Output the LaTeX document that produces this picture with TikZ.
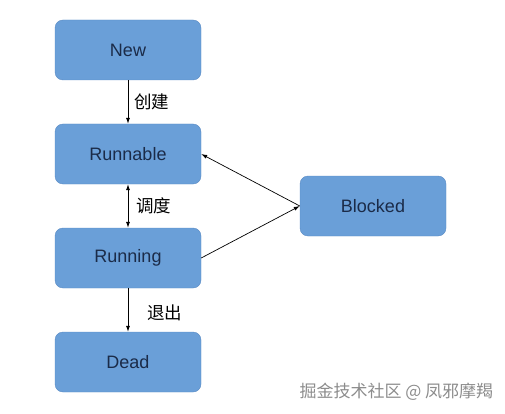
\documentclass[tikz,border=0pt]{standalone}
\usepackage{fontspec}
\setmainfont{Liberation Sans}
\newfontfamily\cjk{Noto Sans CJK SC}
\usetikzlibrary{arrows.meta}
\definecolor{boxfill}{HTML}{6A9FD8}
\definecolor{boxline}{HTML}{5A8BC4}
\definecolor{boxtext}{HTML}{1B2B48}
\begin{document}
\begin{tikzpicture}[x=1pt, y=-1pt,
    state/.style={draw=boxline, fill=boxfill, rounded corners=8pt, minimum width=146pt,
      minimum height=60pt, text=boxtext, font=\fontsize{18}{21}\selectfont},
    lbl/.style={font=\cjk\fontsize{17.5}{20}\selectfont, inner sep=0pt},
    tr/.style={-{Latex[length=6pt,width=4pt]}, line width=0.7pt}]
  \useasboundingbox (0,0) rectangle (505,414);
  % states in a column, Blocked at the side
  \node[state] (new) at (128, 50) {New};
  \node[state] (runnable) at (128, 154) {Runnable};
  \node[state] (running) at (128, 258) {Running};
  \node[state] (dead) at (128, 362) {Dead};
  \node[state] (blocked) at (373, 206) {Blocked};
  % transitions
  \draw[tr] (new) -- (runnable);
  \node[lbl, anchor=west] (create) at (134, 102) {创建};
  \draw[tr, {Latex[length=6pt,width=4pt]}-{Latex[length=6pt,width=4pt]}] (runnable) -- (running);
  \node[lbl, anchor=west] (schedule) at (136, 206) {调度};
  \draw[tr] (running) -- (dead);
  \node[lbl, anchor=west] (quit) at (147, 313) {退出};
  % blocking
  \draw[tr] (blocked.west) -- (runnable.east);
  \draw[tr] (running.east) -- (blocked.west);
  % watermark
  \node[anchor=west, text=black!45, font=\cjk\fontsize{17}{20}\selectfont] (mark) at (296, 392) {掘金技术社区 @ 凤邪摩羯};
\end{tikzpicture}
\end{document}
